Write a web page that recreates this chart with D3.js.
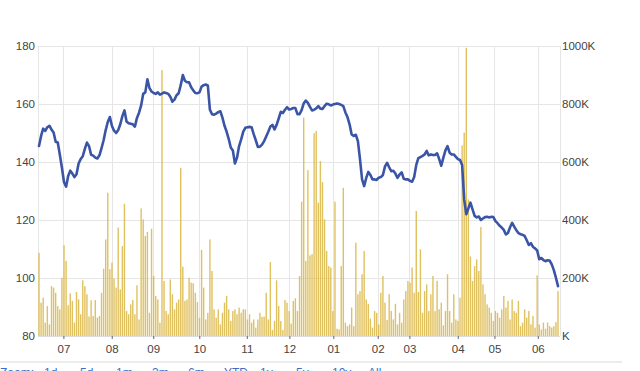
<!DOCTYPE html>
<html><head><meta charset="utf-8">
<script src="https://cdn.jsdelivr.net/npm/d3@7"></script>
<style>
html,body{margin:0;padding:0;background:#fff;}
svg{display:block;font-family:"Liberation Sans",Arial,sans-serif;}
</style></head>
<body>
<svg id="c" width="640" height="371"></svg>
<script>
const monthLabels = ["07","08","09","10","11","12","01","02","03","04","05","06"];
const monthTickIdx = [11.7,34.9,54.8,76.9,99.7,120.1,141.2,162.5,177.7,200.9,218.5,239.3];
const priceTicks = [80,100,120,140,160,180];
const volumeTicks = [0,200,400,600,800,1000];

const price = [
145.5,149,151.5,150.7,152,152.5,151.2,150.2,147,146.7,
142.5,138,133,131.5,135.2,137,136,134.8,135.8,139.5,
141,142,144.5,146.7,145.5,142.5,142.2,141.5,141.2,142.3,
144.8,147.5,151,153.8,155.5,152.4,150.8,150,151,153,
155.8,157.8,154,153.4,153.2,153,152.2,155.2,157,159.5,
163.5,164,168.5,165.5,164.3,163.8,163.5,164,163.2,163.6,
164,163.8,163.5,162.5,160.8,161.5,163,163.7,166.5,170,
168,167.5,167.5,165.8,164.7,163.8,163.7,164,166,166.5,
166.7,166.4,158,156.5,156.3,156.7,157.2,157.5,155.3,152.5,
150.5,148,145,144,139.5,141.5,145.5,147.8,150.5,151.8,
152,152.1,152,149.6,147.5,145.2,145.3,146,147.2,148.8,
150.4,152.2,152.8,151.2,152.8,155,157.3,156.9,158,158.9,
158.1,158.3,158.6,158.6,156.5,156.5,157.9,160.2,161.2,160.4,
159,157.8,158,158.5,159.3,158.4,158.3,159.3,160.1,159.9,
159.5,159.8,160,160.2,160,159.7,159.3,157.1,155.5,153,
149.5,149,149.4,147.2,141,134,131.7,134.5,136.6,135.5,
134,134,133.8,134.6,134.8,135.5,138.5,139.7,138.2,136.8,
137,136,134.5,135.7,136.4,134.2,134,134,133.5,133.2,
134.8,139,141.3,141.7,142.1,142.6,143.8,142.3,142.6,142.4,
142.4,143,141,138.7,141.5,144,145.5,143.2,142.6,142.6,
141.8,141,140.7,139,127,122,124,126,123.7,121.4,
120.9,121.2,120,120.5,121,121.1,120.9,121.1,121,119.6,
118.9,118,117.4,116.6,115,115.5,117.5,119,117.7,116.5,
115.5,115.1,114.9,114.5,113,111.4,112,110.7,110.2,109.5,
106.5,106.9,106.2,105.8,106.1,106,104.7,102.7,100.1,97.2
];

const volumeK = [
287,115,132,46,103,40,172,167,149,103,
92,201,313,259,106,147,121,46,152,126,
75,192,172,144,67,123,69,124,63,69,
149,232,333,494,230,253,198,167,374,161,
310,456,86,75,109,124,75,175,57,440,
402,345,359,80,370,207,138,126,46,917,
190,86,75,195,144,92,115,126,580,239,
121,126,201,184,182,149,117,63,297,167,
57,80,333,224,92,63,92,40,80,115,
138,92,52,86,92,75,98,80,92,92,
57,75,46,57,29,57,80,66,67,149,
57,255,21,52,192,103,52,21,124,115,
86,43,121,130,86,207,463,753,259,572,
278,282,699,707,460,603,531,402,293,241,
236,86,463,25,23,241,511,46,34,40,
98,34,322,144,155,213,293,126,111,60,
29,86,80,40,149,207,115,55,144,86,
57,111,40,80,46,126,155,190,184,236,
149,431,152,299,80,155,178,86,144,207,
86,190,92,115,37,86,213,86,46,144,
57,52,132,657,701,994,471,274,190,241,
264,224,376,178,144,109,98,80,52,86,
80,63,92,138,98,121,57,126,86,80,
121,34,46,92,63,86,40,69,29,209,
40,23,46,25,46,34,29,34,48,155
];

const days = d3.range(price.length);

const svg = d3.select("#c");
const L = 38, R = 560, T = 46, B = 336;
const x = d3.scaleLinear().domain([0, price.length - 1]).range([39, 558]);
const yP = d3.scaleLinear().domain([80, 180]).range([B, T]);
const yV = d3.scaleLinear().domain([0, 1000]).range([B, T]);

// grid
const g = svg.append("g");
g.selectAll(".hg").data(priceTicks).join("line")
  .attr("x1", L).attr("x2", R)
  .attr("y1", d => yP(d) + 0.5).attr("y2", d => yP(d) + 0.5)
  .attr("stroke", "#e6e6e6").attr("stroke-width", 1);
g.selectAll(".vg").data(monthTickIdx).join("line")
  .attr("x1", d => Math.round(x(d)) + 0.5).attr("x2", d => Math.round(x(d)) + 0.5)
  .attr("y1", T).attr("y2", B)
  .attr("stroke", "#e6e6e6").attr("stroke-width", 1);
g.append("line").attr("x1", L + 0.5).attr("x2", L + 0.5).attr("y1", T).attr("y2", B).attr("stroke", "#e6e6e6");
g.append("line").attr("x1", R + 0.5).attr("x2", R + 0.5).attr("y1", T).attr("y2", B).attr("stroke", "#e6e6e6");

// volume bars
svg.append("g").selectAll("rect").data(days).join("rect")
  .attr("x", i => x(i) - 0.7)
  .attr("width", 1.4)
  .attr("y", i => yV(volumeK[i]))
  .attr("height", i => B - yV(volumeK[i]))
  .attr("fill", "#dcb84a")
  .attr("opacity", 0.88);

// price line
svg.append("path").datum(days)
  .attr("d", d3.line().x(i => x(i)).y(i => yP(price[i])))
  .attr("fill", "none").attr("stroke", "#3b55a6")
  .attr("stroke-width", 2.6).attr("stroke-linejoin", "round").attr("stroke-linecap", "round");

// bottom axis line
svg.append("line").attr("x1", L).attr("x2", R).attr("y1", B + 0.5).attr("y2", B + 0.5).attr("stroke", "#dcdcdc");

// axes
const axL = d3.axisLeft(yP).tickValues(priceTicks).tickSize(0).tickPadding(3).tickFormat(d3.format("d"));
const axR = d3.axisRight(yV).tickValues(volumeTicks).tickSize(0).tickPadding(2).tickFormat(d => d === 0 ? "K" : d + "K");
const axB = d3.axisBottom(x).tickValues(monthTickIdx).tickSize(3).tickPadding(6)
  .tickFormat((d, i) => monthLabels[i]);

function style(sel){
  sel.select(".domain").remove();
  sel.selectAll("text").attr("fill", "#444").style("font-size", "11.5px")
     .style("font-family", '"Liberation Sans", Arial, sans-serif');
  sel.selectAll("line").attr("stroke", "#666");
}
svg.append("g").attr("transform", `translate(${L},0)`).call(axL).call(style);
svg.append("g").attr("transform", `translate(${R},0)`).call(axR).call(style);
svg.append("g").attr("transform", `translate(0,${B})`).call(axB).call(style);

// bottom separator and cut-off link row
svg.append("rect").attr("x", 0).attr("y", 361).attr("width", 622).attr("height", 2).attr("fill", "#ececec");
const links = ["Zoom:", "1d", "5d", "1m", "3m", "6m", "YTD", "1y", "5y", "10y", "All"];
svg.append("g").selectAll("text").data(links).join("text")
  .attr("x", (d, i) => i === 0 ? 0 : 44 + (i - 1) * 36)
  .attr("y", 376.5)
  .attr("fill", "#3a6fc4").style("font-size", "12px")
  .text(d => d);
</script>
</body></html>
